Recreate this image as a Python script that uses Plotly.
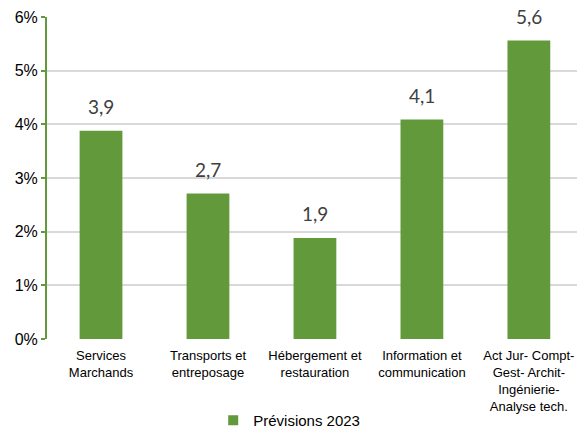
import plotly.graph_objects as go

categories = [
    "Services<br>Marchands",
    "Transports et<br>entreposage",
    "Hébergement et<br>restauration",
    "Information et<br>communication",
    "Act Jur- Compt-<br>Gest- Archit-<br>Ingénierie-<br>Analyse tech.",
]
values = [3.88, 2.71, 1.88, 4.09, 5.56]
series_name = "Prévisions 2023"
y_ticks = [0, 1, 2, 3, 4, 5, 6]
y_tick_labels = ["0%", "1%", "2%", "3%", "4%", "5%", "6%"]

green = "#629A3B"
xs = list(range(len(categories)))

fig = go.Figure()
fig.add_trace(go.Bar(
    x=xs, y=values, name=series_name,
    marker=dict(color=green, line=dict(width=0)), width=0.4,
    showlegend=False, hoverinfo="y",
))
# entrée de légende avec un petit carré
fig.add_trace(go.Scatter(
    x=[None], y=[None], mode="markers", name=series_name,
    marker=dict(symbol="square", size=10, color=green),
))

# étiquettes de valeur au-dessus des barres
for x, v in zip(xs, values):
    fig.add_annotation(
        x=x, y=v, text=f"{v:.1f}".replace(".", ","), showarrow=False,
        yanchor="bottom", yshift=11,
        font=dict(family="Lato, Carlito, Arial", size=19, color="#404040"),
    )

fig.update_layout(
    width=577, height=430,
    margin=dict(l=47, r=0, t=17, b=91),
    paper_bgcolor="white", plot_bgcolor="white",
    font=dict(family="Arial, Liberation Sans", color="black"),
    xaxis=dict(
        range=[-0.505, 4.45], tickmode="array",
        tickvals=xs, ticktext=categories, automargin=False,
        tickfont=dict(size=13), showgrid=False, zeroline=False,
        showline=False, ticks="", ticklabelstandoff=7,
    ),
    yaxis=dict(
        range=[0, 6], tickvals=y_ticks, ticktext=y_tick_labels, automargin=False,
        tickfont=dict(size=16), showgrid=True, gridcolor="#D9D9D9", gridwidth=1.5,
        zeroline=False, showline=True, linecolor=green, linewidth=2,
        ticks="outside", tickcolor=green, ticklen=4, tickwidth=2,
    ),
    legend=dict(
        orientation="h", xref="paper", x=0.457, xanchor="center",
        yref="container", y=0.022, yanchor="middle",
        font=dict(size=15), itemwidth=30,
    ),
    showlegend=True,
)

fig.write_html("out.html", config={"displayModeBar": False},
               post_script="document.body.style.margin='0';")
